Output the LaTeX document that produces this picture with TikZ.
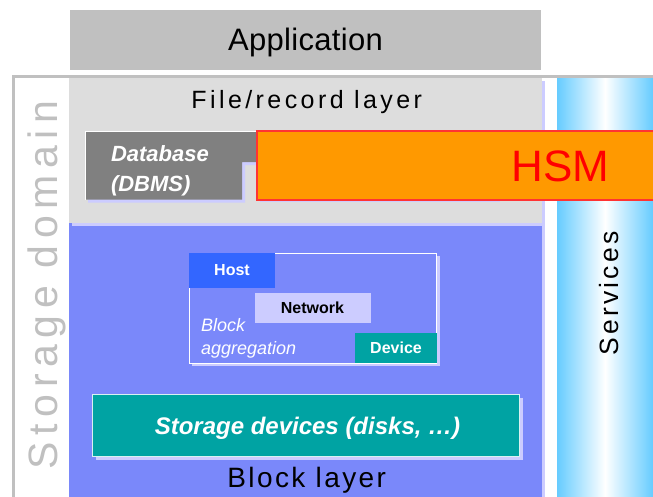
\documentclass[tikz,border=0pt]{standalone}
\usepackage{fontspec}
\setmainfont{Liberation Sans}
\newfontfamily\appfont[LetterSpace=1]{Liberation Sans}
\newfontfamily\filefont[LetterSpace=13.7]{Liberation Sans}
\newfontfamily\blockfont[LetterSpace=8.6]{Liberation Sans}
\newfontfamily\svcfont[LetterSpace=12.1]{Liberation Sans}
\newfontfamily\domainfont[LetterSpace=16]{Liberation Sans}

\definecolor{appgray}{HTML}{C0C0C0}
\definecolor{framegray}{HTML}{C0C0C0}
\definecolor{filegray}{HTML}{DDDDDD}
\definecolor{lav}{HTML}{CCCCFF}
\definecolor{blocklayer}{HTML}{7A88FA}
\definecolor{dbgray}{HTML}{808080}
\definecolor{hsmorange}{HTML}{FF9900}
\definecolor{hsmred}{HTML}{FF3333}
\definecolor{hostblue}{HTML}{3366FF}
\definecolor{teal}{HTML}{00A3A3}
\definecolor{svcblue}{HTML}{66CCFF}

\begin{document}
\begin{tikzpicture}[x=1pt,y=-1pt,
  box/.style={rectangle, inner sep=0pt, outer sep=0pt, anchor=north west},
  txt/.style={inner sep=0pt, outer sep=0pt, anchor=base},
  lefttxt/.style={inner sep=0pt, outer sep=0pt, anchor=base west},
  shadowfill/.style={fill=lav},
]
\useasboundingbox (0,0) rectangle (653,496);
\clip (0,0) rectangle (653,496);
\fill[white] (0,0) rectangle (653,496);

% application on top
\node[box, fill=appgray, minimum width=471pt, minimum height=60pt] (appbox) at (70,9.5) {};
\node[txt, font=\appfont\fontsize{31}{36}\selectfont] (apptext) at (305.5,50.6) {Application};

% storage domain frame
\draw[framegray, line width=2.5pt] (13.5,500) |- (660,76.5);

% layers with their shadows
\fill[shadowfill] (72,81) rectangle (545,500);
\node[box, fill=blocklayer, minimum width=473pt, minimum height=280pt] (blocklayer) at (69,223) {};
\fill[shadowfill] (72,81) rectangle (545,226);
\node[box, fill=filegray, minimum width=473pt, minimum height=145pt] (filelayer) at (69,78) {};

% services column
\shade[left color=svcblue, right color=white] (557,78) rectangle (605,500);
\shade[left color=white, right color=svcblue] (605,78) rectangle (653,500);

% database block with notch
\fill[shadowfill, shift={(3,3)}] (85,131) -- (257,131) -- (257,162) -- (242,162) -- (242,199.5) -- (85,199.5) -- cycle;
\fill[dbgray] (85,131) -- (257,131) -- (257,162) -- (242,162) -- (242,199.5) -- (85,199.5) -- cycle;
\draw[white, line width=1pt] (85.5,199.5) -- (85.5,131.5) -- (257,131.5);

% HSM
\fill[shadowfill] (260,134) rectangle (500,202);
\node[box, fill=hsmorange, draw=hsmred, line width=1.2pt, minimum width=420pt, minimum height=69pt] (hsm) at (257,131) {};

% block aggregation
\fill[shadowfill] (192,256.3) rectangle (439.7,366);
\node[box, fill=blocklayer, draw=white, line width=0.8pt, minimum width=247.7pt, minimum height=109.7pt] (aggframe) at (189,253.3) {};
\node[box, fill=hostblue, minimum width=86pt, minimum height=34.4pt] (host) at (189,253.3) {};
\node[box, fill=lav, minimum width=116pt, minimum height=30.6pt] (network) at (255,292.7) {};
\node[box, fill=teal, minimum width=81.7pt, minimum height=30pt] (device) at (355,333.3) {};

% storage devices
\fill[shadowfill] (96,398) rectangle (523,460);
\node[box, fill=teal, draw=white!85!teal, line width=0.8pt, minimum width=427pt, minimum height=62pt] (disks) at (92,394) {};

% texts
\node[txt, font=\filefont\fontsize{25}{30}\selectfont] (filetext) at (306.7,108.3) {File/record layer};
\node[lefttxt, text=white, font=\bfseries\itshape\fontsize{22}{26}\selectfont] (dbtext1) at (111,161.7) {Database};
\node[lefttxt, text=white, font=\bfseries\itshape\fontsize{22}{26}\selectfont] (dbtext2) at (111,191) {(DBMS)};
\node[txt, text=red, font=\fontsize{44}{50}\selectfont] (hsmtext) at (560.7,181.7) {HSM};
\node[txt, text=white, font=\bfseries\fontsize{16}{19}\selectfont] (hosttext) at (232,275) {Host};
\node[txt, text=black, font=\bfseries\fontsize{16}{19}\selectfont] (nettext) at (312.5,313.3) {Network};
\node[txt, text=white, font=\bfseries\fontsize{16}{19}\selectfont] (devtext) at (396,353.3) {Device};
\node[lefttxt, text=white, font=\itshape\fontsize{18}{22}\selectfont] (aggtext1) at (201,331.7) {Block};
\node[lefttxt, text=white, font=\itshape\fontsize{18}{22}\selectfont] (aggtext2) at (201,354) {aggregation};
\node[txt, text=white, font=\bfseries\itshape\fontsize{24}{28}\selectfont] (diskstext) at (307.5,434.3) {Storage devices (disks, \ldots)};
\node[txt, font=\blockfont\fontsize{28}{32}\selectfont] (blocktext) at (306.7,487) {Block layer};
\node[txt, rotate=90, font=\svcfont\fontsize{26.5}{30}\selectfont] (svctext) at (618.5,293.4) {Services};
\node[txt, rotate=90, text=framegray, font=\domainfont\fontsize{41}{45}\selectfont] (domaintext) at (57.5,285) {Storage domain};
\end{tikzpicture}
\end{document}
